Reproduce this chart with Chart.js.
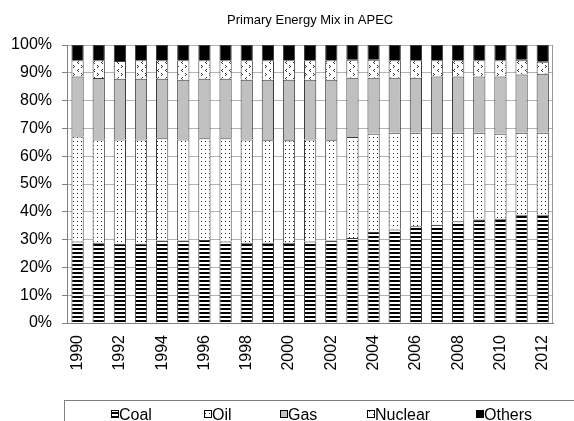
<!DOCTYPE html>
<html>
<head>
<meta charset="utf-8">
<script src="https://cdn.jsdelivr.net/npm/chart.js@4/dist/chart.umd.min.js"></script>
<style>
  html, body { margin: 0; padding: 0; background: #fff; }
  #wrap { width: 574px; height: 421px; }
</style>
</head>
<body>
<div id="wrap"><canvas id="c" width="574" height="421"></canvas></div>
<script>
const years = ['1990','1991','1992','1993','1994','1995','1996','1997','1998','1999','2000','2001','2002','2003','2004','2005','2006','2007','2008','2009','2010','2011','2012'];
const coal    = [29.3,28.9,28.5,28.5,29.7,29.7,29.9,29.3,28.9,28.9,28.9,29.3,29.7,30.6,32.7,33.6,34.8,35.3,36.6,37.2,37.5,38.9,38.9];
const oil     = [37.8,37.1,37.5,37.5,36.8,36.3,36.6,37.2,37.1,36.8,36.8,36.7,36.0,36.3,35.4,34.8,33.6,33.1,31.8,31.2,30.6,29.5,29.5];
const gas     = [21.6,22.1,21.9,21.9,21.4,21.5,21.4,21.4,21.5,21.8,21.8,21.5,21.8,21.3,20.1,19.8,19.8,20.3,20.3,20.3,20.6,21.0,21.3];
const nuclear = [5.8,6.4,6.3,6.6,6.6,7.0,6.6,6.6,7.0,7.0,7.0,7.0,7.0,6.5,6.5,6.3,6.3,5.8,5.8,5.8,5.8,5.3,4.3];
const others  = [5.5,5.5,5.8,5.5,5.5,5.5,5.5,5.5,5.5,5.5,5.5,5.5,5.5,5.3,5.3,5.5,5.5,5.5,5.5,5.5,5.5,5.3,6.0];
const yTicks  = [0,10,20,30,40,50,60,70,80,90,100];
const seriesNames = ['Coal','Oil','Gas','Nuclear','Others'];
const titleText = 'Primary Energy Mix in APEC';

function makePattern(w, h, draw) {
  const c = document.createElement('canvas');
  c.width = w; c.height = h;
  const x = c.getContext('2d');
  x.fillStyle = '#fff';
  x.fillRect(0, 0, w, h);
  draw(x);
  return x.createPattern(c, 'repeat');
}
const ctxMain = document.getElementById('c').getContext('2d');
const coalPat = makePattern(4, 4, x => { x.fillStyle = '#000'; x.fillRect(0, 0, 4, 2); });
const oilPat = makePattern(4, 4, x => { x.fillStyle = '#222'; x.fillRect(1, 1, 1, 1); });
const nucPat = makePattern(8, 8, x => {
  x.fillStyle = '#333';
  x.fillRect(1, 1, 1, 1); x.fillRect(2, 2, 1, 1); x.fillRect(1, 3, 1, 1);
  x.fillRect(6, 5, 1, 1); x.fillRect(5, 6, 1, 1); x.fillRect(6, 7, 1, 1);
});
const fills = [coalPat, oilPat, '#c0c0c0', nucPat, '#000000'];
const values = [coal, oil, gas, nuclear, others];

const datasets = seriesNames.map((n, i) => ({
  label: n,
  data: values[i],
  backgroundColor: fills[i],
  borderColor: '#3a3a3a',
  borderWidth: 1,
  barPercentage: 0.58,
  categoryPercentage: 1.0
}));

const frame = {
  id: 'frame',
  afterDatasetsDraw(chart) {
    const {ctx, chartArea: a} = chart;
    ctx.save();
    ctx.strokeStyle = '#9a9a9a';
    ctx.lineWidth = 1;
    ctx.beginPath();
    ctx.moveTo(Math.round(a.right) - 0.5, a.top);
    ctx.lineTo(Math.round(a.right) - 0.5, a.bottom);
    ctx.stroke();
    ctx.restore();
  },
  afterDraw(chart) {
    const ctx = chart.ctx;
    const a = chart.chartArea;
    ctx.save();
    // title centred over the plot area
    ctx.fillStyle = '#000';
    ctx.font = '13px "Liberation Sans", Arial, sans-serif';
    ctx.textAlign = 'center';
    ctx.textBaseline = 'middle';
    ctx.fillText(titleText, (a.left + a.right) / 2, 20);
    // legend
    ctx.strokeStyle = '#808080';
    ctx.lineWidth = 1;
    ctx.strokeRect(64.5, 400.5, 700, 100);
    const boxX = [111, 204, 280, 367, 476];
    ctx.font = '16px "Liberation Sans", Arial, sans-serif';
    ctx.textBaseline = 'alphabetic';
    ctx.textAlign = 'left';
    chart.data.datasets.forEach((ds, i) => {
      const bx = boxX[i], by = 410;
      ctx.fillStyle = ds.backgroundColor;
      ctx.fillRect(bx, by, 7, 7);
      ctx.strokeStyle = '#000';
      ctx.strokeRect(bx + 0.5, by + 0.5, 7, 7);
      ctx.fillStyle = '#000';
      ctx.fillText(ds.label, bx + 8, 420);
    });
    ctx.restore();
  }
};

new Chart(ctxMain, {
  type: 'bar',
  data: { labels: years, datasets },
  options: {
    responsive: false,
    animation: false,
    devicePixelRatio: 1,
    layout: { padding: { left: 0, right: 3, top: 45, bottom: 0 } },
    plugins: {
      legend: { display: false },
      tooltip: { enabled: false },
      title: { display: false }
    },
    scales: {
      x: {
        stacked: true,
        grid: { display: false, drawTicks: false },
        border: { display: true, color: '#808080' },
        ticks: {
          autoSkip: false,
          maxRotation: 90,
          minRotation: 90,
          padding: 12,
          color: '#000',
          font: { family: '"Liberation Sans", Arial, sans-serif', size: 16 },
          callback: function(v, i) { return i % 2 === 0 ? this.getLabelForValue(v) : ''; }
        },
        afterFit: s => { s.height = 98; }
      },
      y: {
        stacked: true,
        min: 0,
        max: 100,
        afterBuildTicks: s => { s.ticks = yTicks.map(v => ({ value: v })); },
        grid: { color: '#b4b4b4', tickLength: 5, tickColor: '#808080' },
        border: { display: true, color: '#808080' },
        ticks: {
          padding: 10,
          color: '#000',
          font: { family: '"Liberation Sans", Arial, sans-serif', size: 16 },
          callback: v => v + '%'
        },
        afterFit: s => { s.width = 67; }
      }
    }
  },
  plugins: [frame]
});
</script>
</body>
</html>
